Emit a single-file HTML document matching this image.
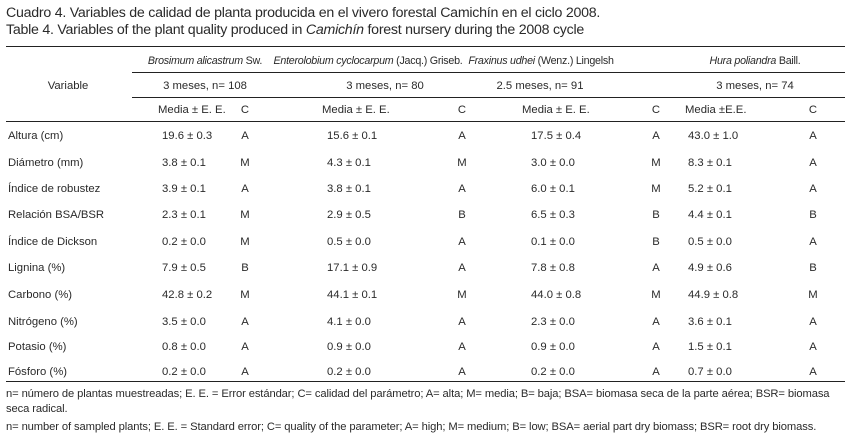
<!DOCTYPE html>
<html><head><meta charset="utf-8"><style>
body{margin:0;width:851px;height:440px;background:#fff;position:relative;overflow:hidden;font-family:"Liberation Sans",sans-serif;color:#2a2a2a}
.t{position:absolute;white-space:nowrap;font-size:11.3px;line-height:12px}
.c{transform:translateX(-50%)}
.h{font-size:10.7px;letter-spacing:-0.25px}
.ln{position:absolute;height:1.4px;background:#222}
.title{position:absolute;font-size:14.2px;white-space:nowrap;left:6px;letter-spacing:-0.25px}
.fn{position:absolute;left:6px;font-size:11.2px;white-space:nowrap;letter-spacing:-0.1px}
</style></head><body>
<div class="title" style="top:5px">Cuadro 4. Variables de calidad de planta producida en el vivero forestal Camichín en el ciclo 2008.</div>
<div class="title" style="top:22px">Table 4. Variables of the plant quality produced in <i>Camichín</i> forest nursery during the 2008 cycle</div>
<div class="ln" style="top:46px;left:6px;width:839px"></div>
<div class="ln" style="top:72px;left:132px;width:713px"></div>
<div class="ln" style="top:97px;left:132px;width:713px"></div>
<div class="ln" style="top:121px;left:6px;width:839px"></div>
<div class="ln" style="top:381px;left:6px;width:839px"></div>

<div class="t c" style="left:68px;top:80px">Variable</div>
<div class="t c h" style="left:205px;top:55px"><i>Brosimum alicastrum</i> Sw.</div>
<div class="t c h" style="left:368px;top:55px"><i>Enterolobium cyclocarpum</i> (Jacq.) Griseb.</div>
<div class="t c h" style="left:541px;top:55px"><i>Fraxinus udhei</i> (Wenz.) Lingelsh</div>
<div class="t c h" style="left:755px;top:55px"><i>Hura poliandra</i> Baill.</div>
<div class="t c" style="left:205px;top:80px">3 meses, n= 108</div>
<div class="t c" style="left:385px;top:80px">3 meses, n= 80</div>
<div class="t c" style="left:540px;top:80px">2.5 meses, n= 91</div>
<div class="t c" style="left:755px;top:80px">3 meses, n= 74</div>
<div class="t" style="left:158px;top:104px">Media ± E. E.</div><div class="t c" style="left:245px;top:104px">C</div>
<div class="t" style="left:322px;top:104px">Media ± E. E.</div><div class="t c" style="left:462px;top:104px">C</div>
<div class="t" style="left:522px;top:104px">Media ± E. E.</div><div class="t c" style="left:656px;top:104px">C</div>
<div class="t" style="left:685px;top:104px">Media ±E.E.</div><div class="t c" style="left:813px;top:104px">C</div>

<div id="rows"></div>
<script>
var d=[
["Altura (cm)","19.6 ± 0.3","A","15.6 ± 0.1","A","17.5 ± 0.4","A","43.0 ± 1.0","A"],
["Diámetro (mm)","3.8 ± 0.1","M","4.3 ± 0.1","M","3.0 ± 0.0","M","8.3 ± 0.1","A"],
["Índice de robustez","3.9 ± 0.1","A","3.8 ± 0.1","A","6.0 ± 0.1","M","5.2 ± 0.1","A"],
["Relación BSA/BSR","2.3 ± 0.1","M","2.9 ± 0.5","B","6.5 ± 0.3","B","4.4 ± 0.1","B"],
["Índice de Dickson","0.2 ± 0.0","M","0.5 ± 0.0","A","0.1 ± 0.0","B","0.5 ± 0.0","A"],
["Lignina (%)","7.9 ± 0.5","B","17.1 ± 0.9","A","7.8 ± 0.8","A","4.9 ± 0.6","B"],
["Carbono (%)","42.8 ± 0.2","M","44.1 ± 0.1","M","44.0 ± 0.8","M","44.9 ± 0.8","M"],
["Nitrógeno (%)","3.5 ± 0.0","A","4.1 ± 0.0","A","2.3 ± 0.0","A","3.6 ± 0.1","A"],
["Potasio (%)","0.8 ± 0.0","A","0.9 ± 0.0","A","0.9 ± 0.0","A","1.5 ± 0.1","A"],
["Fósforo (%)","0.2 ± 0.0","A","0.2 ± 0.0","A","0.2 ± 0.0","A","0.7 ± 0.0","A"]];
var ys=[130,157,183,209,236,262,289,316,341,366];
var vx=[162,327,531,688],cx=[245,462,656,813],h="";
d.forEach(function(r,i){var y=ys[i];
h+='<div class="t" style="left:8px;top:'+y+'px">'+r[0]+'</div>';
for(var k=0;k<4;k++){h+='<div class="t" style="left:'+vx[k]+'px;top:'+y+'px">'+r[1+2*k]+'</div><div class="t c" style="left:'+cx[k]+'px;top:'+y+'px">'+r[2+2*k]+'</div>';}
});
document.getElementById("rows").innerHTML=h;
</script>
<div class="fn" style="top:388px">n= número de plantas muestreadas; E. E. = Error estándar; C= calidad del parámetro; A= alta; M= media; B= baja; BSA= biomasa seca de la parte aérea; BSR= biomasa</div>
<div class="fn" style="top:403px">seca radical.</div>
<div class="fn" style="top:421px">n= number of sampled plants; E. E. = Standard error; C= quality of the parameter; A= high; M= medium; B= low; BSA= aerial part dry biomass; BSR= root dry biomass.</div>
</body></html>
